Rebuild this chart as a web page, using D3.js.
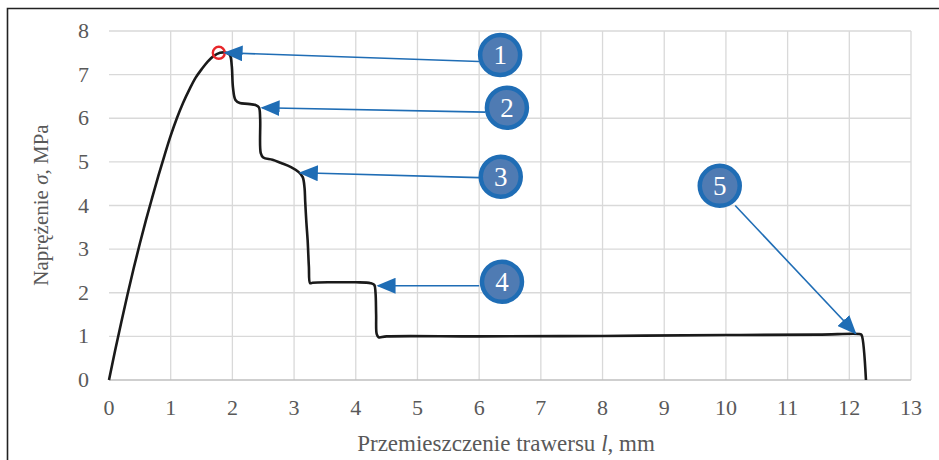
<!DOCTYPE html>
<html>
<head>
<meta charset="utf-8">
<script src="https://cdn.jsdelivr.net/npm/d3@7"></script>
<style>
  body { margin: 0; background: #fff; }
</style>
</head>
<body>
<div id="chart"></div>
<script>
const width = 939
const height = 460
const serif = "'Liberation Serif', 'Times New Roman', serif"

// displacement l, mm
const disp = [0, 0.1, 0.2, 0.3, 0.4, 0.5, 0.6, 0.7, 0.8, 0.9, 1.0, 1.1, 1.2, 1.3, 1.4, 1.5, 1.6, 1.7, 1.8, 1.9, 1.96, 1.99, 2.01, 2.05, 2.12, 2.25, 2.38, 2.43, 2.45, 2.46, 2.5, 2.65, 2.78, 2.95, 3.08, 3.14, 3.17, 3.18, 3.2, 3.22, 3.24, 3.26, 3.3, 3.6, 4.0, 4.24, 4.3, 4.32, 4.33, 4.34, 4.37, 4.5, 6, 8, 10, 11.5, 12.18, 12.2, 12.27]
// stress sigma, MPa
const stress = [0, 0.68, 1.33, 1.96, 2.56, 3.13, 3.67, 4.18, 4.68, 5.15, 5.6, 6.0, 6.35, 6.65, 6.92, 7.12, 7.3, 7.43, 7.5, 7.5, 7.45, 7.2, 6.7, 6.42, 6.35, 6.33, 6.3, 6.25, 6.0, 5.2, 5.1, 5.05, 4.98, 4.88, 4.76, 4.65, 4.4, 4.1, 3.6, 3.2, 2.6, 2.22, 2.23, 2.24, 2.24, 2.22, 2.18, 2.0, 1.5, 1.05, 0.98, 1.0, 1.0, 1.01, 1.03, 1.04, 1.05, 1.03, 0]

const xTicks = d3.range(0, 14)
const yTicks = d3.range(0, 9)

// callouts: label, tip (x, y), tail (x, y), bubble centre (x, y)
const callLabels = ["1", "2", "3", "4", "5"]
const tipX = [1.88, 2.48, 3.1, 4.36, 12.1]
const tipY = [7.5, 6.24, 4.75, 2.16, 1.07]
const tailX = [6.0, 6.1, 6.0, 6.0, 10.15]
const tailY = [7.3, 6.14, 4.64, 2.16, 4.0]
const bubX = [6.34, 6.45, 6.35, 6.37, 9.9]
const bubY = [7.45, 6.24, 4.66, 2.25, 4.45]

const svg = d3.select("#chart")
  .append("svg")
    .attr("width", width)
    .attr("height", height)
    .attr("font-family", serif)

const x = d3.scaleLinear().domain([0, 13]).range([109, 911])
const y = d3.scaleLinear().domain([0, 8]).range([380, 31])

// outer frame (left and top only visible)
svg.append("path")
  .attr("d", "M7.5,470 L7.5,8.5 L939,8.5")
  .attr("fill", "none")
  .attr("stroke", "#222")
  .attr("stroke-width", 1.6)

// grid
svg.append("g")
  .selectAll("line")
  .data(xTicks.slice(1))
  .join("line")
    .attr("x1", d => x(d)).attr("x2", d => x(d))
    .attr("y1", y(0)).attr("y2", y(8))
    .attr("stroke", "#d9d9d9").attr("stroke-width", 1.3)
svg.append("g")
  .selectAll("line")
  .data(yTicks.slice(1))
  .join("line")
    .attr("x1", x(0)).attr("x2", x(13))
    .attr("y1", d => y(d)).attr("y2", d => y(d))
    .attr("stroke", "#d9d9d9").attr("stroke-width", 1.3)
// x axis line
svg.append("line")
  .attr("x1", x(0)).attr("x2", x(13))
  .attr("y1", y(0)).attr("y2", y(0))
  .attr("stroke", "#bfbfbf").attr("stroke-width", 1.5)

// tick labels
svg.append("g")
  .selectAll("text")
  .data(xTicks)
  .join("text")
    .attr("x", d => x(d))
    .attr("y", 415)
    .attr("text-anchor", "middle")
    .attr("fill", "#595959")
    .style("font-size", "22px")
    .text(d => d)
svg.append("g")
  .selectAll("text")
  .data(yTicks)
  .join("text")
    .attr("x", 89)
    .attr("y", d => y(d) + 7)
    .attr("text-anchor", "end")
    .attr("fill", "#595959")
    .style("font-size", "22px")
    .text(d => d)

// axis titles
const xt = svg.append("text")
  .attr("x", 506)
  .attr("y", 451)
  .attr("text-anchor", "middle")
  .attr("fill", "#595959")
  .style("font-size", "23px")
xt.append("tspan").text("Przemieszczenie trawersu ")
xt.append("tspan").style("font-style", "italic").text("l")
xt.append("tspan").text(", mm")

const yt = svg.append("text")
  .attr("transform", "translate(48,205) rotate(-90)")
  .attr("text-anchor", "middle")
  .attr("fill", "#595959")
  .style("font-size", "21px")
yt.append("tspan").text("Naprężenie ")
yt.append("tspan").style("font-style", "italic").text("σ")
yt.append("tspan").text(", MPa")

// curve
const pts = disp.map((d, i) => [d, stress[i]])
svg.append("path")
  .datum(pts)
  .attr("fill", "none")
  .attr("stroke", "#1a1a1a")
  .attr("stroke-width", 2.6)
  .attr("stroke-linejoin", "round")
  .attr("d", d3.line().x(d => x(d[0])).y(d => y(d[1])).curve(d3.curveCatmullRom.alpha(0.5)))

// peak marker
svg.append("circle")
  .attr("cx", x(1.78))
  .attr("cy", y(7.5))
  .attr("r", 6)
  .attr("fill", "none")
  .attr("stroke", "#e8262a")
  .attr("stroke-width", 2.4)

// arrows
svg.append("defs").append("marker")
  .attr("id", "arrow")
  .attr("viewBox", "0 0 12 10")
  .attr("refX", 11)
  .attr("refY", 5)
  .attr("markerWidth", 12)
  .attr("markerHeight", 10)
  .attr("markerUnits", "strokeWidth")
  .attr("orient", "auto")
  .append("path")
    .attr("d", "M0,0 L12,5 L0,10 Z")
    .attr("fill", "#1f6db5")

const calls = callLabels.map((t, i) => ({
  t: t, tx: tipX[i], ty: tipY[i], sx: tailX[i], sy: tailY[i], bx: bubX[i], by: bubY[i]
}))

svg.append("g")
  .selectAll("line")
  .data(calls)
  .join("line")
    .attr("x1", d => x(d.sx)).attr("y1", d => y(d.sy))
    .attr("x2", d => x(d.tx)).attr("y2", d => y(d.ty))
    .attr("stroke", "#1f6db5")
    .attr("stroke-width", 1.6)
    .attr("marker-end", "url(#arrow)")

const bub = svg.append("g")
  .selectAll("g")
  .data(calls)
  .join("g")
    .attr("transform", d => `translate(${x(d.bx)},${y(d.by)})`)
bub.append("circle")
  .attr("r", 20)
  .attr("fill", "#4f7bb3")
  .attr("stroke", "#1f6db5")
  .attr("stroke-width", 4.5)
bub.append("text")
  .attr("text-anchor", "middle")
  .attr("y", 9)
  .attr("fill", "#fff")
  .style("font-size", "27px")
  .text(d => d.t)
</script>
</body>
</html>
